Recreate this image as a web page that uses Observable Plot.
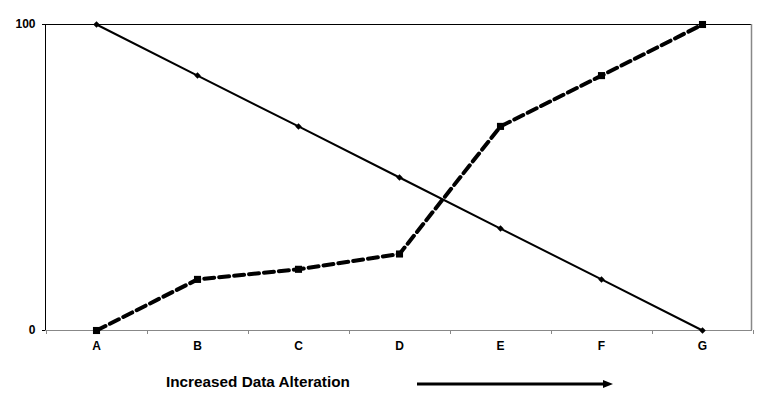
<!DOCTYPE html>
<html>
<head>
<meta charset="utf-8">
<script src="https://cdn.jsdelivr.net/npm/d3@7"></script>
<script src="https://cdn.jsdelivr.net/npm/@observablehq/plot@0.6"></script>
<style>
  html, body { margin: 0; padding: 0; background: #fff; }
  svg { display: block; }
</style>
</head>
<body>
<div id="chart"></div>
<script>
const categories = ["A", "B", "C", "D", "E", "F", "G"];
const solidSeries = [100, 83.3, 66.7, 50, 33.3, 16.7, 0];
const dashedSeries = [0, 16.7, 20, 25, 66.7, 83.3, 100];
const yTicks = [0, 100];
const captionText = "Increased Data Alteration";

const solidData = categories.map((c, i) => ({cat: c, v: solidSeries[i]}));
const dashedData = categories.map((c, i) => ({cat: c, v: dashedSeries[i]}));

const font = "'Liberation Sans', Arial, sans-serif";

// square rotated 45° (Excel-style diamond marker)
const squareDiamond = {
  draw(context, size) {
    const r = Math.sqrt(size / 2);
    context.moveTo(0, -r);
    context.lineTo(r, 0);
    context.lineTo(0, r);
    context.lineTo(-r, 0);
    context.closePath();
  }
};

function decorations(index, scales, values, dimensions) {
  const {width, height, marginLeft, marginRight, marginTop, marginBottom} = dimensions;
  const x = scales.x;
  const step = x("B") - x("A");
  const left = marginLeft, right = width - marginRight;
  const top = marginTop, bottom = height - marginBottom;
  const g = d3.create("svg:g");
  g.append("line").attr("x1", left).attr("x2", right).attr("y1", top + 0.5).attr("y2", top + 0.5).attr("stroke", "#000");
  g.append("line").attr("x1", left + 0.5).attr("x2", left + 0.5).attr("y1", top).attr("y2", bottom).attr("stroke", "#000");
  g.append("line").attr("x1", right - 0.5).attr("x2", right - 0.5).attr("y1", top).attr("y2", bottom).attr("stroke", "#888").attr("stroke-width", 1.5);
  g.append("line").attr("x1", left).attr("x2", right).attr("y1", bottom + 0.5).attr("y2", bottom + 0.5).attr("stroke", "#888").attr("stroke-width", 1.2);
  for (let i = 0; i <= categories.length; i++) {
    const xb = Math.round(x(categories[0]) - step / 2 + i * step) + 0.5;
    g.append("line").attr("x1", xb).attr("x2", xb).attr("y1", bottom).attr("y2", bottom + 4).attr("stroke", "#888");
  }
  g.append("text").attr("x", 166).attr("y", bottom + 57)
    .style("font-family", font).style("font-weight", "bold").style("font-size", "15.3px")
    .style("text-anchor", "start").attr("fill", "#000").text(captionText);
  const ay = bottom + 54;
  g.append("line").attr("x1", 417).attr("x2", 604).attr("y1", ay).attr("y2", ay)
    .attr("stroke", "#000").attr("stroke-width", 3);
  g.append("path").attr("d", `M603,${ay - 4} L613,${ay} L603,${ay + 4} Z`).attr("fill", "#000");
  return g.node();
}

const chart = Plot.plot({
  width: 759,
  height: 403,
  marginLeft: 45,
  marginRight: 7,
  marginTop: 24,
  marginBottom: 73,
  style: {fontFamily: font, background: "#fff", overflow: "visible"},
  x: {type: "point", domain: categories, padding: 0.5, align: 0.5, label: null},
  y: {domain: [0, 100], label: null},
  marks: [
    Plot.axisY({ticks: yTicks, tickSize: 3, tickPadding: 7, fontSize: 12, fontWeight: "bold", stroke: "#000", label: null}),
    Plot.axisX({tickSize: 0, tickPadding: 11, fontSize: 12, fontWeight: "bold", label: null}),
    decorations,
    Plot.line(solidData, {x: "cat", y: "v", stroke: "#000", strokeWidth: 2}),
    Plot.dot(solidData, {x: "cat", y: "v", symbol: squareDiamond, r: 2.6, fill: "#000", stroke: "none"}),
    Plot.line(dashedData, {x: "cat", y: "v", stroke: "#000", strokeWidth: 4, strokeDasharray: "10,5"}),
    Plot.dot(dashedData, {x: "cat", y: "v", symbol: "square", r: 4, fill: "#000", stroke: "none"})
  ]
});
document.getElementById("chart").appendChild(chart);
</script>
</body>
</html>
